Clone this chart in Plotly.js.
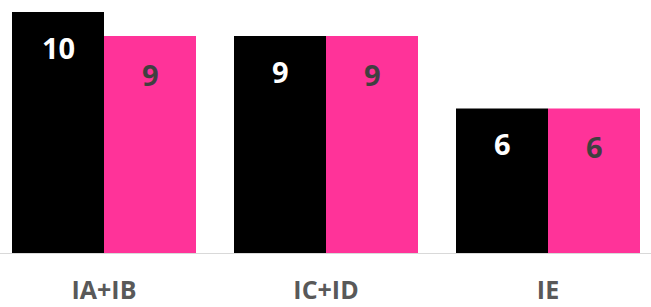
<!DOCTYPE html>
<html>
<head>
<meta charset="utf-8">
<script src="https://cdn.plot.ly/plotly-3.0.1.min.js"></script>
<style>html,body{margin:0;padding:0;background:#fff;}#chart{width:651px;height:307px;}</style>
</head>
<body>
<div id="chart"></div>
<script>
const categories = ["IA+IB", "IC+ID", "IE"];
const seriesA = [10, 9, 6];
const seriesB = [9, 9, 6];
const colorA = "#000000";
const colorB = "#FF3399";

const bargap = 38 / 222;
const half = (1 - bargap) / 4;
const annotations = [];
categories.forEach((c, i) => {
  annotations.push({x: i - half, y: seriesA[i], xref: 'x', yref: 'y', text: '<b>' + seriesA[i] + '</b>', showarrow: false, yshift: -35, font: {family: 'Open Sans', size: 29, color: '#FFFFFF'}});
  annotations.push({x: i + half, y: seriesB[i], xref: 'x', yref: 'y', text: '<b>' + seriesB[i] + '</b>', showarrow: false, yshift: -38, font: {family: 'Open Sans', size: 29, color: '#404040'}});
});

const data = [
  {type: 'bar', x: categories.map((c, i) => i), y: seriesA, marker: {color: colorA}, hoverinfo: 'none'},
  {type: 'bar', x: categories.map((c, i) => i), y: seriesB, marker: {color: colorB}, hoverinfo: 'none'}
];

const layout = {
  width: 651, height: 307,
  margin: {l: 0, r: 0, t: 12, b: 54},
  barmode: 'group', bargap: bargap, bargroupgap: 0,
  showlegend: false,
  paper_bgcolor: '#fff', plot_bgcolor: '#fff',
  xaxis: {
    range: [-104 / 222, -104 / 222 + 651 / 222],
    tickvals: categories.map((c, i) => i), ticktext: categories.map(c => '<b>' + c + '</b>'),
    showgrid: false, zeroline: false, showline: true, linecolor: '#D9D9D9', linewidth: 1,
    ticks: '', ticklabelstandoff: 15,
    tickfont: {family: 'Open Sans', size: 25, color: '#595959'}
  },
  yaxis: {range: [0, 10], visible: false, showgrid: false, zeroline: false},
  annotations: annotations
};
Plotly.newPlot('chart', data, layout, {staticPlot: true, displayModeBar: false});
</script>
</body>
</html>
